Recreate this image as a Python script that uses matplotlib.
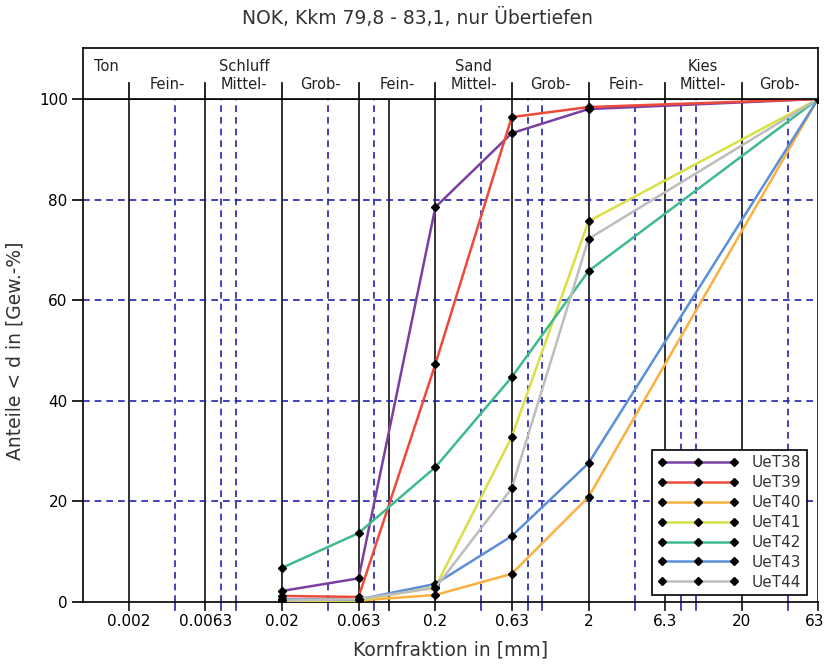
import matplotlib
matplotlib.use("Agg")
import matplotlib.pyplot as plt
import matplotlib.transforms as mtransforms

plt.rcParams['font.family'] = ['DejaVu Sans']

# Sieve sizes (mm) and cumulative passing (%) per sample
sieve_mm = [0.02, 0.063, 0.2, 0.63, 2.0, 63.0]
samples = ["UeT38", "UeT39", "UeT40", "UeT41", "UeT42", "UeT43", "UeT44"]
uet38 = [2.2, 4.7, 78.5, 93.2, 98.0, 100.0]
uet39 = [1.2, 1.0, 47.3, 96.4, 98.4, 100.0]
uet40 = [0.2, 0.3, 1.4, 5.6, 20.9, 100.0]
uet41 = [0.3, 0.3, 3.0, 32.8, 75.7, 100.0]
uet42 = [6.8, 13.7, 26.8, 44.7, 65.8, 100.0]
uet43 = [0.5, 0.5, 3.6, 13.1, 27.6, 100.0]
uet44 = [0.3, 0.6, 2.8, 22.6, 72.2, 100.0]
series = [uet38, uet39, uet40, uet41, uet42, uet43, uet44]
colors = ["#7b3fa0", "#ee4a3a", "#fbb040", "#d9e045", "#3fba8c", "#5b8fd6", "#bdbdbd"]

# Axis ticks and grain-size classification
xtick_vals = [0.002, 0.0063, 0.02, 0.063, 0.2, 0.63, 2, 6.3, 20, 63]
xtick_labels = ["0.002", "0.0063", "0.02", "0.063", "0.2", "0.63", "2", "6.3", "20", "63"]
solid_lines = [0.002, 0.0063, 0.02, 0.063, 0.1, 0.2, 0.63, 2, 6.3, 20, 63]
dashed_lines = [0.004, 0.008, 0.01, 0.04, 0.08, 0.4, 0.8, 1, 4, 8, 10, 40]
yticks = [0, 20, 40, 60, 80, 100]
y_dashed = [20, 40, 60, 80]
class_bounds = [0.002, 0.0063, 0.02, 0.063, 0.2, 0.63, 2, 6.3, 20]
sub_labels = ["Fein-", "Mittel-", "Grob-", "Fein-", "Mittel-", "Grob-", "Fein-", "Mittel-", "Grob-"]
main_labels = {"Schluff": 1, "Sand": 4, "Kies": 7}
xmin, xmax = 0.001, 63

W, H = 826, 664
fig = plt.figure(figsize=(W / 100, H / 100), dpi=100)

L, R = 83, 818
top, bot = 99, 602
htop = 48
ax = fig.add_axes([L / W, (H - bot) / H, (R - L) / W, (bot - top) / H])
hx = fig.add_axes([L / W, (H - top) / H, (R - L) / W, (top - htop) / H])

grid_blue = "#2323b0"
grid_black = "#222222"
dash = (0, (4, 3))

ax.set_xscale("log")
ax.set_xlim(xmin, xmax)
ax.set_ylim(0, 100)

xt = ax.get_xaxis_transform()
for xv in solid_lines:
    ax.plot([xv, xv], [0, 1], transform=xt, color=grid_black, lw=1.3, zorder=1)
    ax.plot([xv, xv], [-0.016, 0], transform=xt, color=grid_black, lw=1.3,
            clip_on=False, zorder=1)
for xv in dashed_lines:
    ax.plot([xv, xv], [0, 1], transform=xt, color=grid_blue, lw=1.2,
            linestyle=dash, zorder=1)
    ax.plot([xv, xv], [-0.016, 0], transform=xt, color=grid_blue, lw=1.2,
            clip_on=False, zorder=1)
for yv in y_dashed:
    ax.axhline(yv, color=grid_blue, lw=1.2, linestyle=dash, zorder=1)

for name, vals, c in zip(samples, series, colors):
    ax.plot(sieve_mm, vals, color=c, lw=1.8, zorder=3, label=name,
            marker="D", markersize=4.2, markerfacecolor="black",
            markeredgecolor="black")

ax.set_xticks(xtick_vals)
ax.set_xticklabels(xtick_labels)
ax.xaxis.set_minor_locator(matplotlib.ticker.NullLocator())
ax.tick_params(axis="x", length=0, pad=9, labelsize=11)
# keep the last label inside the canvas
last = ax.get_xticklabels()[-1]
last.set_transform(last.get_transform() +
                   mtransforms.ScaledTranslation(-3 / 100, 0, fig.dpi_scale_trans))
ax.set_yticks(yticks)
ax.tick_params(axis="y", length=8, width=1.2, pad=3, labelsize=11, color="black")
for s in ax.spines.values():
    s.set_color("black")
    s.set_linewidth(1.2)
ax.spines["right"].set_visible(False)

ax.set_xlabel("Kornfraktion in [mm]", fontsize=13.5, color="#333333", labelpad=8)
ax.set_ylabel("Anteile < d in [Gew.-%]", fontsize=13.5, color="#333333", labelpad=10)

leg = ax.legend(loc="lower right", bbox_to_anchor=(1 - 11 / (R - L), 7 / (bot - top)),
                borderaxespad=0, numpoints=3, handlelength=5.3, handletextpad=0.9,
                borderpad=0.35, labelspacing=0.32, fontsize=11, fancybox=False,
                framealpha=1, edgecolor="black")
leg.get_frame().set_linewidth(1.2)
for t in leg.get_texts():
    t.set_color("#333333")

# Classification header
hx.set_xscale("log")
hx.set_xlim(xmin, xmax)
hx.set_ylim(0, 1)
hx.set_xticks([])
hx.set_yticks([])
hx.xaxis.set_minor_locator(matplotlib.ticker.NullLocator())
for s in hx.spines.values():
    s.set_color("black")
    s.set_linewidth(1.2)
for xv in class_bounds:
    hx.plot([xv, xv], [0, 0.31], color="black", lw=1.2)
edges = [xmin] + class_bounds + [xmax]
hfs = 10.5
hx.text((edges[0] * edges[1]) ** 0.5, 0.64, "Ton", ha="center", va="center",
        fontsize=hfs, color="#222222")
for i, lab in enumerate(sub_labels):
    xc = (edges[i + 1] * edges[i + 2]) ** 0.5
    hx.text(xc, 0.29, lab, ha="center", va="center", fontsize=hfs, color="#222222")
for lab, i in main_labels.items():
    xc = (edges[i + 1] * edges[i + 2]) ** 0.5
    hx.text(xc, 0.64, lab, ha="center", va="center", fontsize=hfs, color="#222222")

fig.text(0.5 + 4 / W, 1 - 18 / H, "NOK, Kkm 79,8 - 83,1, nur Übertiefen",
         ha="center", va="center", fontsize=13.5, color="#333333")

fig.savefig("out.png", dpi=100)
